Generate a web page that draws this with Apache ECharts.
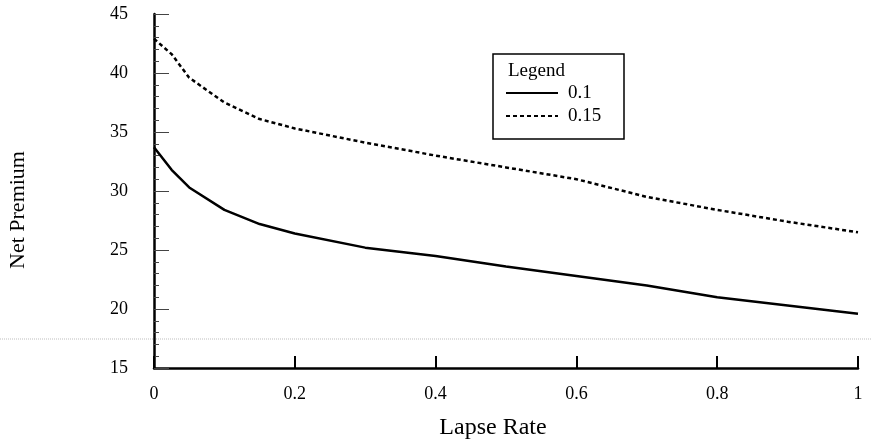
<!DOCTYPE html>
<html>
<head>
<meta charset="utf-8">
<script src="https://cdn.jsdelivr.net/npm/echarts@6/dist/echarts.min.js"></script>
<style>
  html, body { margin: 0; padding: 0; background: #fff; }
  #chart { width: 872px; height: 444px; }
</style>
</head>
<body>
<div id="chart"></div>
<script>
// Lapse rate (x) and net premium for two interest rates
const lapseRate = [0, 0.025, 0.05, 0.1, 0.15, 0.2, 0.3, 0.4, 0.5, 0.6, 0.7, 0.8, 0.9, 1.0];
const premiumRate010 = [33.7, 31.8, 30.3, 28.4, 27.2, 26.4, 25.2, 24.5, 23.6, 22.8, 22.0, 21.0, 20.3, 19.6];
const premiumRate015 = [42.9, 41.6, 39.6, 37.5, 36.1, 35.3, 34.1, 33.0, 32.0, 31.0, 29.5, 28.4, 27.4, 26.5];
const seriesNames = ['0.1', '0.15'];
const legendTitle = 'Legend';
const xTitle = 'Lapse Rate';
const yTitle = 'Net Premium';

const serif = '"Liberation Serif", "DejaVu Serif", serif';
const pairs = (xs, ys) => xs.map((x, i) => [x, ys[i]]);

const chart = echarts.init(document.getElementById('chart'), null, { renderer: 'canvas' });
chart.setOption({
  animation: false,
  backgroundColor: '#fff',
  color: ['#000', '#000'],
  grid: { left: 154, right: 14, top: 14, bottom: 76 },
  xAxis: {
    type: 'value', min: 0, max: 1, interval: 0.2,
    axisLine: { lineStyle: { color: '#000', width: 2.5 } },
    axisTick: { inside: true, length: 12, lineStyle: { color: '#000', width: 2 } },
    axisLabel: { margin: 17, color: '#000', fontFamily: serif, fontSize: 18 },
    splitLine: { show: false }
  },
  yAxis: {
    type: 'value', min: 15, max: 45, interval: 5,
    axisLine: { show: true, lineStyle: { color: '#000', width: 2.5 } },
    axisTick: { show: true, inside: true, length: 15, lineStyle: { color: '#444', width: 1 } },
    minorTick: { show: true, splitNumber: 5, length: 5, lineStyle: { color: '#444', width: 1 } },
    axisLabel: { margin: 26, color: '#000', fontFamily: serif, fontSize: 18 },
    splitLine: { show: false }
  },
  legend: {
    orient: 'vertical',
    left: 505, top: 82, padding: 0,
    itemWidth: 52, itemHeight: 22, itemGap: 1,
    itemStyle: { opacity: 0 },
    textStyle: { color: '#000', fontFamily: serif, fontSize: 19, lineHeight: 22, padding: [0, 0, 0, 5] },
    data: seriesNames
  },
  graphic: [
    { type: 'line', silent: true, z: 0,
      shape: { x1: 0, y1: 339, x2: 872, y2: 339 },
      style: { stroke: '#bdbdbd', lineWidth: 1, lineDash: [1, 1] } },
    { type: 'rect', silent: true,
      shape: { x: 493, y: 54, width: 131, height: 85 },
      style: { fill: 'none', stroke: '#000', lineWidth: 1.5 } },
    { type: 'text', silent: true, left: 508, top: 62,
      style: { text: legendTitle, fill: '#000', font: '19px ' + serif } },
    { type: 'text', silent: true, x: 493, y: 428,
      style: { text: xTitle, fill: '#000', font: '24px ' + serif, align: 'center', verticalAlign: 'middle' } },
    { type: 'text', silent: true, x: 18, y: 210, rotation: Math.PI / 2,
      style: { text: yTitle, fill: '#000', font: '22px ' + serif, align: 'center', verticalAlign: 'middle' } }
  ],
  series: [
    { name: seriesNames[0], type: 'line', symbol: 'none', smooth: false,
      data: pairs(lapseRate, premiumRate010),
      lineStyle: { color: '#000', width: 2.5, type: 'solid' } },
    { name: seriesNames[1], type: 'line', symbol: 'none', smooth: false,
      data: pairs(lapseRate, premiumRate015),
      lineStyle: { color: '#000', width: 2.5, type: [4, 3] } }
  ]
});
</script>
</body>
</html>
